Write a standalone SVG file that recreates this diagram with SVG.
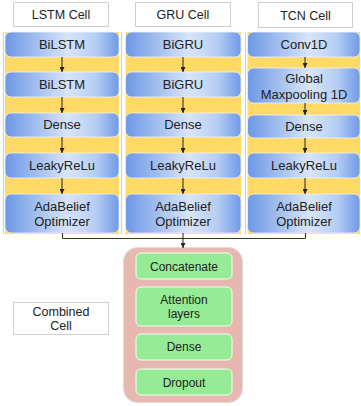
<svg xmlns="http://www.w3.org/2000/svg" width="361" height="406" viewBox="0 0 361 406">
<defs>
<linearGradient id="blue" x1="0" y1="0" x2="1" y2="0">
<stop offset="0" stop-color="#6c98e6"/>
<stop offset="0.55" stop-color="#d8e5f8"/>
<stop offset="0.8" stop-color="#b5cdf3"/>
<stop offset="1" stop-color="#6e9ae7"/>
</linearGradient>
<marker id="ah" viewBox="0 0 10 10" refX="10" refY="5" markerWidth="5" markerHeight="5" orient="auto">
<path d="M0,0 L10,5 L0,10 z" fill="#222"/>
</marker>
</defs>
<style>
text{font-family:"Liberation Sans",Arial,sans-serif;fill:#222;text-anchor:middle}
.hdr rect{fill:#fff;stroke:#cfcfcf;stroke-width:1}
.hdr text{font-size:12.5px}
.col{fill:#ffd966}
.sep{stroke:#cfcfcf;stroke-width:1.2}
.blk rect{fill:url(#blue);stroke:#eef3fb;stroke-width:0.8}
.blk text{font-size:13px}
.arr{stroke:#222;stroke-width:1;fill:none;marker-end:url(#ah)}
.con{stroke:#333;stroke-width:1;fill:none}
.grn rect{fill:#96ec96;stroke:#f4fff4;stroke-width:1}
.grn text{font-size:12px}
</style>
<rect width="361" height="406" fill="#fff"/>

<!-- headers -->
<g id="hdr-lstm" class="hdr"><rect x="13.5" y="2.5" width="95" height="24"/><text x="61" y="19">LSTM Cell</text></g>
<g id="hdr-gru" class="hdr"><rect x="135.5" y="2.5" width="95" height="24"/><text x="183" y="19">GRU Cell</text></g>
<g id="hdr-tcn" class="hdr"><rect x="258.5" y="2.5" width="94" height="25"/><text x="305.5" y="19.5">TCN Cell</text></g>

<!-- column backgrounds -->
<rect class="col" x="5" y="32" width="114" height="202"/>
<rect class="col" x="125.5" y="32" width="115.5" height="202"/>
<rect class="col" x="247.5" y="32" width="112.5" height="202"/>
<line class="sep" x1="3.5" y1="32" x2="3.5" y2="234"/>
<line class="sep" x1="121.5" y1="32" x2="121.5" y2="234"/>
<line class="sep" x1="245.5" y1="32" x2="245.5" y2="234"/>

<!-- LSTM column -->
<g id="lstm-bilstm1" class="blk"><rect x="5" y="32" width="114" height="25" rx="6"/><text x="62" y="48.5">BiLSTM</text></g>
<g id="lstm-bilstm2" class="blk"><rect x="5" y="72" width="114" height="25" rx="6"/><text x="62" y="88.5">BiLSTM</text></g>
<g id="lstm-dense" class="blk"><rect x="5" y="113" width="114" height="24" rx="6"/><text x="62" y="129">Dense</text></g>
<g id="lstm-leaky" class="blk"><rect x="5" y="153" width="114" height="25" rx="6"/><text x="62" y="170">LeakyReLu</text></g>
<g id="lstm-ada" class="blk"><rect x="5" y="194" width="114" height="39" rx="6"/><text x="62" y="210.5">AdaBelief</text><text x="62" y="225.5">Optimizer</text></g>

<!-- GRU column -->
<g id="gru-bigru1" class="blk"><rect x="125.5" y="32" width="115.5" height="25" rx="6"/><text x="183" y="48.5">BiGRU</text></g>
<g id="gru-bigru2" class="blk"><rect x="125.5" y="72" width="115.5" height="25" rx="6"/><text x="183" y="88.5">BiGRU</text></g>
<g id="gru-dense" class="blk"><rect x="125.5" y="113" width="115.5" height="24" rx="6"/><text x="183" y="129">Dense</text></g>
<g id="gru-leaky" class="blk"><rect x="125.5" y="153" width="115.5" height="25" rx="6"/><text x="183" y="170">LeakyReLu</text></g>
<g id="gru-ada" class="blk"><rect x="125.5" y="194" width="115.5" height="39" rx="6"/><text x="183" y="210.5">AdaBelief</text><text x="183" y="225.5">Optimizer</text></g>

<!-- TCN column -->
<g id="tcn-conv" class="blk"><rect x="247.5" y="32" width="112.5" height="25" rx="6"/><text x="304" y="48.5">Conv1D</text></g>
<g id="tcn-gmp" class="blk"><rect x="247.5" y="68" width="112.5" height="35" rx="6"/><text x="304" y="83">Global</text><text x="304" y="99">Maxpooling 1D</text></g>
<g id="tcn-dense" class="blk"><rect x="247.5" y="115" width="112.5" height="23" rx="6"/><text x="304" y="130.5">Dense</text></g>
<g id="tcn-leaky" class="blk"><rect x="247.5" y="153" width="112.5" height="25" rx="6"/><text x="304" y="170">LeakyReLu</text></g>
<g id="tcn-ada" class="blk"><rect x="247.5" y="194" width="112.5" height="39" rx="6"/><text x="304" y="210.5">AdaBelief</text><text x="304" y="225.5">Optimizer</text></g>

<!-- combined cell label -->
<g id="combined-label" class="hdr"><rect x="13.5" y="302.5" width="95" height="32" fill="#fff"/><text x="61" y="316">Combined</text><text x="61" y="330">Cell</text></g>

<!-- combined cell -->
<g id="combined">
<rect x="123.5" y="247.5" width="119" height="155" rx="14" fill="#e6b8b0" stroke="#dcdcdc" stroke-width="1"/>
<g id="c-concat" class="grn"><rect x="136" y="253" width="96" height="26" rx="5"/><text x="184" y="270.5">Concatenate</text></g>
<g id="c-attn" class="grn"><rect x="136" y="287" width="96" height="39" rx="5"/><text x="184" y="304">Attention</text><text x="184" y="318">layers</text></g>
<g id="c-dense" class="grn"><rect x="136" y="334" width="96" height="26" rx="5"/><text x="184" y="351">Dense</text></g>
<g id="c-drop" class="grn"><rect x="136" y="369" width="96" height="26" rx="5"/><text x="184" y="386.5">Dropout</text></g>
</g>

<!-- connectors -->
<g id="connectors">
<line class="arr" x1="62" y1="57" x2="62" y2="72"/>
<line class="arr" x1="62" y1="97" x2="62" y2="113"/>
<line class="arr" x1="62" y1="137" x2="62" y2="153"/>
<line class="arr" x1="62" y1="178" x2="62" y2="194"/>
<line class="arr" x1="183" y1="57" x2="183" y2="72"/>
<line class="arr" x1="183" y1="97" x2="183" y2="113"/>
<line class="arr" x1="183" y1="137" x2="183" y2="153"/>
<line class="arr" x1="183" y1="178" x2="183" y2="194"/>
<line class="arr" x1="305" y1="57" x2="305" y2="68"/>
<line class="arr" x1="305" y1="103" x2="305" y2="115"/>
<line class="arr" x1="305" y1="138" x2="305" y2="153"/>
<line class="arr" x1="305" y1="178" x2="305" y2="194"/>
<polyline class="con" points="62.5,233 62.5,238.5 305.5,238.5 305.5,233"/>
<line class="arr" x1="183" y1="233" x2="183" y2="248"/>
</g>
</svg>
